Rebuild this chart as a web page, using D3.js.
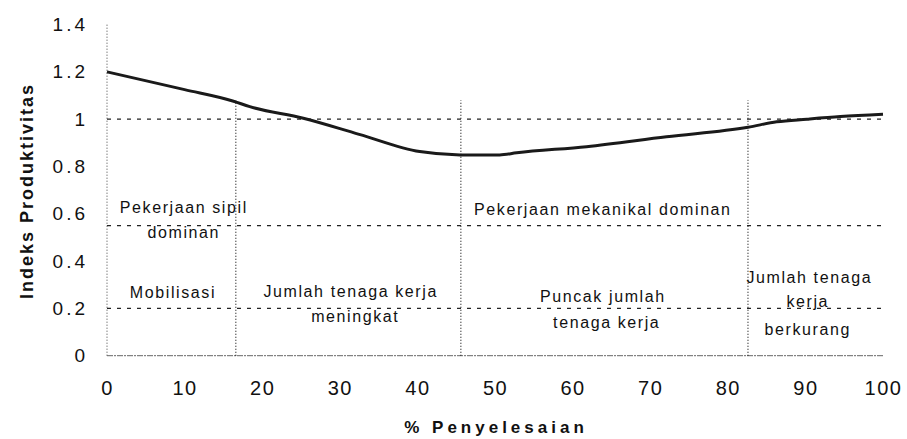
<!DOCTYPE html>
<html>
<head>
<meta charset="utf-8">
<script src="https://cdn.jsdelivr.net/npm/d3@7"></script>
<style>
  body { margin: 0; background: #fff; }
  text { font-family: "Liberation Sans", Arial, sans-serif; fill: #111; }
</style>
</head>
<body>
<div id="viz"></div>
<script>
// % completion vs productivity index
const completion = [0, 10, 16.2, 18.4, 25.3, 32.5, 40.3, 45.5, 50.6, 52.8, 61.8, 72.1, 82.6, 86.3, 90.2, 94.5, 100];
const productivity = [1.20, 1.125, 1.077, 1.053, 1.004, 0.936, 0.863, 0.849, 0.849, 0.858, 0.884, 0.926, 0.966, 0.989, 1.0, 1.011, 1.021];

const xTicks = [0, 10, 20, 30, 40, 50, 60, 70, 80, 90, 100];
const yTicks = [0, 0.2, 0.4, 0.6, 0.8, 1, 1.2, 1.4];

// phase boundaries (% completion) and reference levels
const phaseBreaks = [16.6, 45.6, 82.6];
const phaseTop = 1.08;
const refLevels = [1, 0.55, 0.2];

// annotation text, anchored in data units [x %, y index]
const notes = [
    { text: "Pekerjaan sipil", x: 9.9, y: 0.603 },
    { text: "dominan", x: 9.9, y: 0.498 },
    { text: "Mobilisasi", x: 8.5, y: 0.244 },
    { text: "Jumlah tenaga kerja", x: 31.4, y: 0.248 },
    { text: "meningkat", x: 32.0, y: 0.142 },
    { text: "Pekerjaan mekanikal dominan", x: 63.9, y: 0.595 },
    { text: "Puncak jumlah", x: 63.9, y: 0.227 },
    { text: "tenaga kerja", x: 64.4, y: 0.117 },
    { text: "Jumlah tenaga", x: 90.5, y: 0.307 },
    { text: "kerja", x: 90.3, y: 0.206 },
    { text: "berkurang", x: 90.3, y: 0.088 }
];

const width = 907;
const height = 439;

const svg = d3.select("#viz").append("svg")
    .attr("width", width)
    .attr("height", height);

const x = d3.scaleLinear().domain([0, 100]).range([107, 883]);
const y = d3.scaleLinear().domain([0, 1.4]).range([355.7, 24.6]);

// y axis as a dotted line
svg.append("line")
    .attr("x1", x(0)).attr("x2", x(0))
    .attr("y1", y(0)).attr("y2", y(1.4))
    .attr("stroke", "#444")
    .attr("stroke-width", 1)
    .attr("stroke-dasharray", "1,2");

// baseline
svg.append("line")
    .attr("x1", x(0)).attr("x2", x(100))
    .attr("y1", y(0)).attr("y2", y(0))
    .attr("stroke", "#666")
    .attr("stroke-width", 1)
    .attr("stroke-dasharray", "6,1,2,1");

svg.selectAll(".ref")
    .data(refLevels)
    .join("line")
        .attr("class", "ref")
        .attr("x1", x(0)).attr("x2", x(100))
        .attr("y1", d => y(d)).attr("y2", d => y(d))
        .attr("stroke", "#222")
        .attr("stroke-width", 1.3)
        .attr("stroke-dasharray", "4,6");

svg.selectAll(".phase")
    .data(phaseBreaks)
    .join("line")
        .attr("class", "phase")
        .attr("x1", d => x(d)).attr("x2", d => x(d))
        .attr("y1", y(0)).attr("y2", y(phaseTop))
        .attr("stroke", "#222")
        .attr("stroke-width", 1.2)
        .attr("stroke-dasharray", "1,2");

const line = d3.line()
    .x((d, i) => x(completion[i]))
    .y(d => y(d))
    .curve(d3.curveMonotoneX);

svg.append("path")
    .datum(productivity)
    .attr("fill", "none")
    .attr("stroke", "#1a1a1a")
    .attr("stroke-width", 3)
    .attr("d", line);

svg.selectAll(".note")
    .data(notes)
    .join("text")
        .attr("class", "note")
        .attr("x", d => x(d.x))
        .attr("y", d => y(d.y))
        .style("text-anchor", "middle")
        .style("font-size", "16px")
        .style("letter-spacing", "1.6px")
        .text(d => d.text);

// axes
const gx = svg.append("g")
    .attr("transform", `translate(0,${y(0)})`)
    .call(d3.axisBottom(x).tickValues(xTicks).tickSize(0).tickPadding(25));
gx.select(".domain").remove();
gx.selectAll("text")
    .style("font-size", "20px")
    .style("letter-spacing", "1.5px")
    .attr("fill", "#111");

const gy = svg.append("g")
    .attr("transform", `translate(${x(0)},0)`)
    .call(d3.axisLeft(y).tickValues(yTicks).tickSize(0).tickPadding(19).tickFormat(d3.format("~g")));
gy.select(".domain").remove();
gy.selectAll("text")
    .style("font-size", "19px")
    .style("letter-spacing", "3px")
    .attr("fill", "#111");

svg.append("text")
    .attr("x", 496)
    .attr("y", 433)
    .style("text-anchor", "middle")
    .style("font-size", "17px")
    .style("font-weight", "bold")
    .style("letter-spacing", "4px")
    .text("% Penyelesaian");

svg.append("text")
    .attr("transform", "translate(33,191) rotate(-90)")
    .style("text-anchor", "middle")
    .style("font-size", "18px")
    .style("font-weight", "bold")
    .style("letter-spacing", "2px")
    .text("Indeks Produktivitas");
</script>
</body>
</html>
